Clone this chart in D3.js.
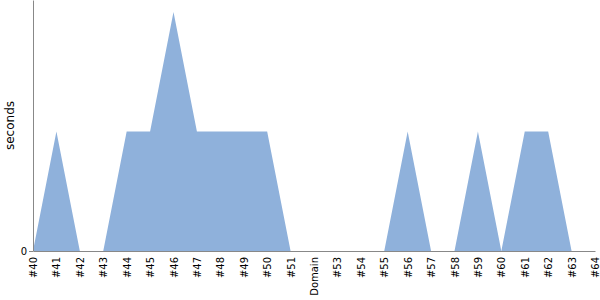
<!DOCTYPE html>
<html>
<head>
<meta charset="utf-8">
<script src="https://cdn.jsdelivr.net/npm/d3@7"></script>
<style>
  body { margin: 0; }
  svg { font-family: "DejaVu Sans", sans-serif; }
</style>
</head>
<body>
<svg id="chart" width="600" height="300"></svg>
<script>
// Build labels and their values
const labels = ["#40", "#41", "#42", "#43", "#44", "#45", "#46", "#47", "#48", "#49", "#50", "#51",
  "Domain", "#53", "#54", "#55", "#56", "#57", "#58", "#59", "#60", "#61", "#62", "#63", "#64"];
const seconds = [0, 1, 0, 0, 1, 1, 2, 1, 1, 1, 1, 0, 0, 0, 0, 0, 1, 0, 0, 1, 0, 1, 1, 0, 0];
const yTicks = [0];

const margin = { top: 0, right: 5, bottom: 49, left: 33 };
const svg = d3.select("#chart");
const WIDTH = 600 - margin.left - margin.right;
const HEIGHT = 300 - margin.top - margin.bottom;

const g = svg.append("g").attr("transform", `translate(${margin.left},${margin.top})`);

// SCALES
const xScale = d3.scalePoint().domain(labels).range([0, WIDTH]);
const yScale = d3.scaleLinear().domain([0, 2.1]).range([HEIGHT, 0]);

const data = labels.map((l, i) => ({ label: l, value: seconds[i] }));

// Area
const area = d3.area()
  .x((d) => xScale(d.label))
  .y0(HEIGHT)
  .y1((d) => yScale(d.value));

g.append("path")
  .datum(data)
  .attr("d", area)
  .attr("fill", "#8fb1db");

// Axes
const xAxis = g.append("g")
  .attr("transform", `translate(0,${HEIGHT})`)
  .call(d3.axisBottom(xScale).tickSize(0).tickPadding(6));
xAxis.select(".domain").attr("stroke", "#888");
xAxis.selectAll("text")
  .attr("font-size", 10)
  .attr("font-family", "DejaVu Sans, sans-serif")
  .attr("fill", "#000")
  .attr("transform", "rotate(-90)")
  .attr("text-anchor", "end")
  .attr("x", -6)
  .attr("y", 0)
  .attr("dy", "0.35em");

const yAxis = g.append("g")
  .call(d3.axisLeft(yScale).tickValues(yTicks).tickFormat(d3.format("d"))
    .tickSize(4).tickPadding(2).tickSizeOuter(0));
yAxis.select(".domain").attr("stroke", "#888");
yAxis.selectAll(".tick line").attr("stroke", "#888");
yAxis.selectAll("text")
  .attr("font-size", 10)
  .attr("font-family", "DejaVu Sans, sans-serif")
  .attr("fill", "#000");

// Y label
svg.append("text")
  .attr("transform", `translate(14,${HEIGHT / 2}) rotate(-90)`)
  .attr("text-anchor", "middle")
  .attr("font-size", 12)
  .attr("fill", "#000")
  .text("seconds");
</script>
</body>
</html>
